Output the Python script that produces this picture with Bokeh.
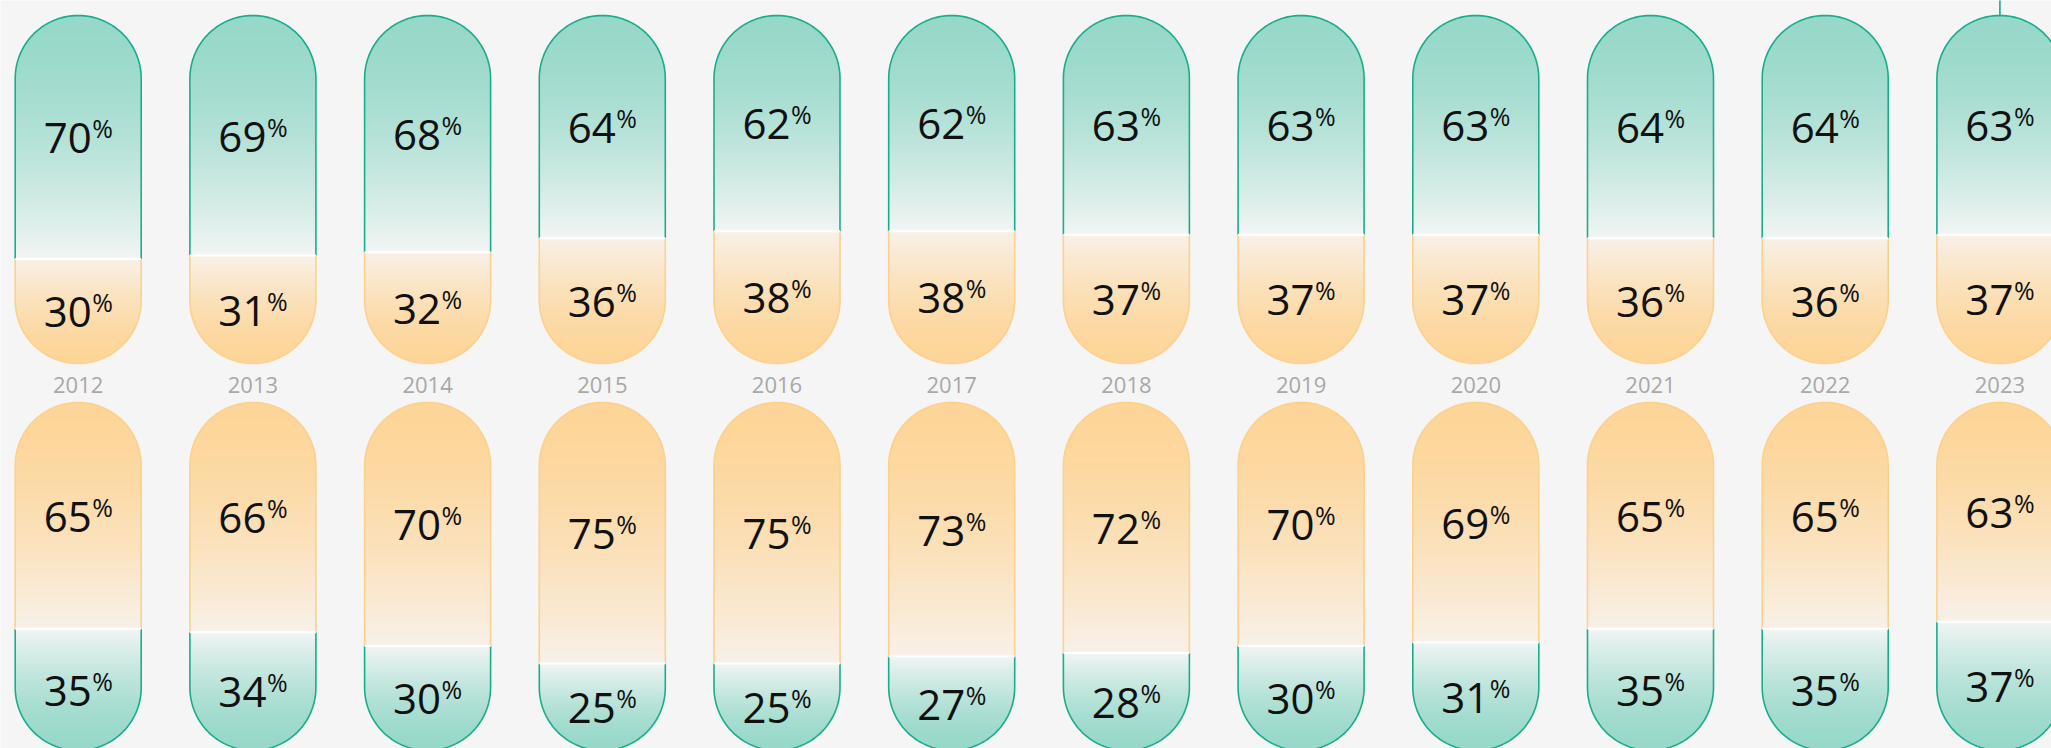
import math
from bokeh.plotting import figure
from bokeh.models import ColumnDataSource, Range1d
from bokeh.core.properties import value
from bokeh.embed import file_html
from bokeh.resources import INLINE

# ---------------- data ----------------
years = ["2012", "2013", "2014", "2015", "2016", "2017", "2018", "2019", "2020", "2021", "2022", "2023"]
top_green = [70, 69, 68, 64, 62, 62, 63, 63, 63, 64, 64, 63]
top_orange = [30, 31, 32, 36, 38, 38, 37, 37, 37, 36, 36, 37]
bottom_orange = [65, 66, 70, 75, 75, 73, 72, 70, 69, 65, 65, 63]
bottom_green = [35, 34, 30, 25, 25, 27, 28, 30, 31, 35, 35, 37]

# ---------------- layout / style ----------------
W, H = 2051, 748
PX_X = 174.7          # pixels per category step
PX_Y = 3.48           # pixels per percentage point
X0 = -77.7 / PX_X
X1 = X0 + W / PX_X
Y1 = 100 + 15 / PX_Y
Y0 = Y1 - H / PX_Y
ROW_OFF = (402 - 15) / PX_Y
RX = 63 / PX_X
RY = 63 / PX_Y
BAND = 1.4 / PX_Y

BG = "#f5f5f5"
GREEN_DARK = (150, 216, 201)
GREEN_LIGHT = (242, 245, 244)
ORANGE_DARK = (253, 213, 152)
ORANGE_LIGHT = (248, 241, 233)
GREEN_LINE = "#1aad8b"
ORANGE_LINE = "#fdd08c"


def hw(local):
    """half width of the pill at local height (0..100)"""
    if local > 100 - RY:
        d = (local - (100 - RY)) / RY
        return RX * math.sqrt(max(0.0, 1 - d * d))
    if local < RY:
        d = (RY - local) / RY
        return RX * math.sqrt(max(0.0, 1 - d * d))
    return RX


def mix(c1, c2, f):
    r, g, b = (int(round(a + (b_ - a) * f)) for a, b_ in zip(c1, c2))
    return "#%02x%02x%02x" % (r, g, b)


band_xs, band_ys, band_col = [], [], []
gl_xs, gl_ys = [], []
ol_xs, ol_ys = [], []
div_x0, div_x1, div_y = [], [], []


def segment(c, base, lo, hi, far_is_top, dark, light, lines_xs, lines_ys):
    """gradient bands + outline for one segment; lo/hi are local heights"""
    length = hi - lo
    n = max(1, int(math.ceil(length / BAND)))
    step = length / n
    for k in range(n):
        a = lo + k * step
        b = min(hi, a + step * 1.7)
        mid = (a + a + step) / 2
        s = (hi - mid) / length if far_is_top else (mid - lo) / length
        f = s ** 1.6
        col = mix(dark, light, f)
        ha, hb = hw(a), hw(b)
        band_xs.append([c - ha, c - hb, c + hb, c + ha])
        band_ys.append([base + a, base + b, base + b, base + a])
        band_col.append(col)
    # outline
    xs, ys = [], []
    if far_is_top:
        cy = 100 - RY
        xs += [c - RX, c - RX]
        ys += [base + lo, base + cy]
        for j in range(61):
            t = math.pi - math.pi * j / 60
            xs.append(c + RX * math.cos(t))
            ys.append(base + cy + RY * math.sin(t))
        xs += [c + RX, c + RX]
        ys += [base + cy, base + lo]
    else:
        cy = RY
        xs += [c - RX, c - RX]
        ys += [base + hi, base + cy]
        for j in range(61):
            t = math.pi + math.pi * j / 60
            xs.append(c + RX * math.cos(t))
            ys.append(base + cy + RY * math.sin(t))
        xs += [c + RX, c + RX]
        ys += [base + cy, base + hi]
    lines_xs.append(xs)
    lines_ys.append(ys)


lab_x, lab_y, lab_t = [], [], []

for i in range(len(years)):
    # top row: green on top, orange below
    base = 0.0
    d = top_orange[i]
    segment(i, base, d, 100, True, GREEN_DARK, GREEN_LIGHT, gl_xs, gl_ys)
    segment(i, base, 0, d, False, ORANGE_DARK, ORANGE_LIGHT, ol_xs, ol_ys)
    div_x0.append(i - RX); div_x1.append(i + RX); div_y.append(base + d)
    lab_x += [i, i]
    lab_y += [base + (d + 100) / 2, base + d / 2]
    lab_t += [str(top_green[i]), str(top_orange[i])]
    # bottom row: orange on top, green below
    base = -ROW_OFF
    d = bottom_green[i]
    segment(i, base, d, 100, True, ORANGE_DARK, ORANGE_LIGHT, ol_xs, ol_ys)
    segment(i, base, 0, d, False, GREEN_DARK, GREEN_LIGHT, gl_xs, gl_ys)
    div_x0.append(i - RX); div_x1.append(i + RX); div_y.append(base + d)
    lab_x += [i, i]
    lab_y += [base + (d + 100) / 2, base + d / 2]
    lab_t += [str(bottom_orange[i]), str(bottom_green[i])]

p = figure(width=W, height=H, output_backend="svg", toolbar_location=None,
           x_range=Range1d(X0, X1), y_range=Range1d(Y0, Y1),
           x_axis_location=None, y_axis_location=None, min_border=0,
           background_fill_color=BG, border_fill_color=BG, outline_line_color=None)
p.xgrid.visible = False
p.ygrid.visible = False

p.patches(band_xs, band_ys, fill_color=band_col, line_color=None)
p.multi_line(gl_xs, gl_ys, line_color=GREEN_LINE, line_width=1.6)
p.multi_line(ol_xs, ol_ys, line_color=ORANGE_LINE, line_width=1.6)
p.segment(x0=div_x0, y0=div_y, x1=div_x1, y1=div_y, line_color="white", line_width=2)

# leader line above the last pill
p.segment(x0=[len(years) - 1], y0=[100], x1=[len(years) - 1], y1=[Y1 + 5],
          line_color=GREEN_LINE, line_width=1.6)

src = ColumnDataSource(dict(x=lab_x, y=lab_y, t=lab_t, pc=["%"] * len(lab_t)))
p.text(x="x", y="y", text="t", source=src, text_font=value("Open Sans"),
       text_font_size="42px", text_color="#111111", text_align="right",
       text_baseline="alphabetic", x_offset=13.5, y_offset=1)
p.text(x="x", y="y", text="pc", source=src, text_font=value("Open Sans"),
       text_font_size="25px", text_color="#111111", text_align="left",
       text_baseline="alphabetic", x_offset=14, y_offset=-9)

yl = 100 - (391 - 15) / PX_Y
p.text(x=list(range(len(years))), y=[yl] * len(years), text=years,
       text_font=value("Open Sans"), text_font_size="22px", text_color="#a8a8a8",
       text_align="center", text_baseline="alphabetic", y_offset=-7)

open("out.html", "w").write(file_html(p, INLINE))
